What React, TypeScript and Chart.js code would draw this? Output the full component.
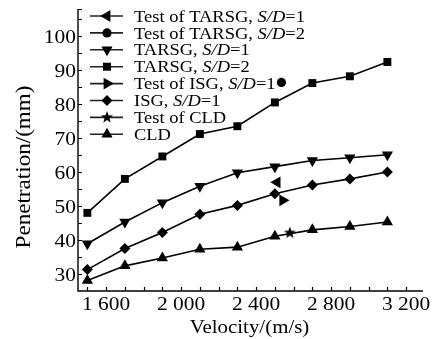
import React, { useEffect, useRef } from 'react';
import { Chart, registerables } from 'chart.js';

Chart.register(...registerables);

// ---- data ----
const velocities = [1500, 1700, 1900, 2100, 2300, 2500, 2700, 2900, 3100];
const tarsgSD1 = [38.9, 45.3, 51.0, 55.8, 59.8, 61.6, 63.4, 64.2, 65.1];
const tarsgSD2 = [48.0, 58.0, 64.6, 71.2, 73.5, 80.5, 86.2, 88.2, 92.4];
const isgSD1 = [31.3, 37.5, 42.2, 47.6, 50.2, 53.6, 56.2, 58.0, 60.0];
const cld = [28.1, 32.4, 34.7, 37.3, 37.9, 41.1, 43.0, 44.0, 45.3];

const testTarsgSD1V = [2512];
const testTarsgSD1P = [57.0];
const testTarsgSD2V = [2535];
const testTarsgSD2P = [86.4];
const testIsgSD1V = [2542];
const testIsgSD1P = [51.7];
const testCldV = [2580];
const testCldP = [42.2];

const yTickValues = [30, 40, 50, 60, 70, 80, 90, 100];
const xTickValues = [1600, 2000, 2400, 2800, 3200];
const xTickLabels = ['1 600', '2 000', '2 400', '2 800', '3 200'];

const xTitle = 'Velocity/(m/s)';
const yTitle = 'Penetration/(mm)';

// legend entries: [normal, italic, normal]
const legendTexts: string[][] = [
  ['Test of TARSG, ', 'S/D', '=1'],
  ['Test of TARSG, ', 'S/D', '=2'],
  ['TARSG, ', 'S/D', '=1'],
  ['TARSG, ', 'S/D', '=2'],
  ['Test of ISG, ', 'S/D', '=1'],
  ['ISG, ', 'S/D', '=1'],
  ['Test of CLD', '', ''],
  ['CLD', '', ''],
];
const legendMarkers = ['left', 'circle', 'down', 'square', 'right', 'diamond', 'star', 'up'];

const SERIF = '"Liberation Serif", "Times New Roman", serif';

function drawMarker(ctx: CanvasRenderingContext2D, kind: string, x: number, y: number) {
  ctx.save();
  ctx.fillStyle = '#000';
  ctx.beginPath();
  const tri = (r: number, rotDeg: number) => {
    let a = (rotDeg * Math.PI) / 180;
    ctx.moveTo(x + Math.sin(a) * r, y - Math.cos(a) * r);
    a += (2 * Math.PI) / 3;
    ctx.lineTo(x + Math.sin(a) * r, y - Math.cos(a) * r);
    a += (2 * Math.PI) / 3;
    ctx.lineTo(x + Math.sin(a) * r, y - Math.cos(a) * r);
    ctx.closePath();
  };
  if (kind === 'up') tri(6.5, 0);
  else if (kind === 'down') tri(6.5, 180);
  else if (kind === 'left') tri(6.8, 270);
  else if (kind === 'right') tri(6.8, 90);
  else if (kind === 'circle') ctx.arc(x, y, 4.6, 0, Math.PI * 2);
  else if (kind === 'square') ctx.rect(x - 4, y - 4, 8, 8);
  else if (kind === 'diamond') {
    ctx.moveTo(x, y - 5.5);
    ctx.lineTo(x + 5.5, y);
    ctx.lineTo(x, y + 5.5);
    ctx.lineTo(x - 5.5, y);
    ctx.closePath();
  } else if (kind === 'star') {
    for (let i = 0; i < 10; i++) {
      const r = i % 2 === 0 ? 6.3 : 2.6;
      const a = (i * Math.PI) / 5;
      const px = x + Math.sin(a) * r;
      const py = y - Math.cos(a) * r;
      if (i === 0) ctx.moveTo(px, py);
      else ctx.lineTo(px, py);
    }
    ctx.closePath();
  }
  ctx.fill();
  ctx.restore();
}

function makeStarCanvas(): HTMLCanvasElement {
  const c = document.createElement('canvas');
  c.width = 14;
  c.height = 14;
  const cx = c.getContext('2d')!;
  drawMarker(cx, 'star', 7, 7.3);
  return c;
}

function stretchedText(
  ctx: CanvasRenderingContext2D,
  text: string,
  x: number,
  y: number,
  font: string,
  align: CanvasTextAlign,
  sx: number
) {
  ctx.save();
  ctx.translate(x, y);
  ctx.scale(sx, 1);
  ctx.font = font;
  ctx.textAlign = align;
  ctx.textBaseline = 'alphabetic';
  ctx.fillStyle = '#000';
  ctx.fillText(text, 0, 0);
  ctx.restore();
}

const decorPlugin = {
  id: 'decor',
  afterDraw(chart: any) {
    const ctx: CanvasRenderingContext2D = chart.ctx;
    const area = chart.chartArea;
    const xs = chart.scales.x;
    const ys = chart.scales.y;
    ctx.save();
    ctx.strokeStyle = '#000';
    ctx.lineWidth = 1.4;
    // axes
    ctx.beginPath();
    ctx.moveTo(area.left, area.top);
    ctx.lineTo(area.left, area.bottom);
    ctx.lineTo(area.right, area.bottom);
    ctx.stroke();
    // y ticks every 5 (inward)
    ctx.lineWidth = 1.2;
    ctx.beginPath();
    for (let v = 30; v <= 105; v += 5) {
      const py = Math.round(ys.getPixelForValue(v)) + 0.5;
      ctx.moveTo(area.left, py);
      ctx.lineTo(area.left + 4, py);
    }
    const topTick = Math.round(area.top) + 0.5;
    ctx.moveTo(area.left, topTick);
    ctx.lineTo(area.left + 4, topTick);
    // x ticks every 100 (inward)
    for (let v = 1500; v <= 3200; v += 100) {
      const px = Math.round(xs.getPixelForValue(v)) + 0.5;
      ctx.moveTo(px, area.bottom);
      ctx.lineTo(px, area.bottom - 4);
    }
    ctx.stroke();

    // tick labels
    const tickFont = `19.5px ${SERIF}`;
    yTickValues.forEach((v) => {
      stretchedText(ctx, String(v), area.left - 2, ys.getPixelForValue(v) + 6.6, tickFont, 'right', 1.1);
    });
    xTickValues.forEach((v, i) => {
      stretchedText(ctx, xTickLabels[i], xs.getPixelForValue(v), 310, tickFont, 'center', 1.1);
    });

    // axis titles
    stretchedText(ctx, xTitle, (area.left + area.right) / 2 - 1, 333, `19px ${SERIF}`, 'center', 1.1);
    ctx.save();
    ctx.translate(30, 167);
    ctx.rotate(-Math.PI / 2);
    ctx.scale(1.1, 1);
    ctx.font = `21px ${SERIF}`;
    ctx.textAlign = 'center';
    ctx.textBaseline = 'alphabetic';
    ctx.fillStyle = '#000';
    ctx.fillText(yTitle, 0, 0);
    ctx.restore();

    // legend
    const sx = 1.12;
    const lf = 16.5;
    legendTexts.forEach((parts, i) => {
      const ry = 16 + i * 16.9;
      ctx.save();
      ctx.strokeStyle = '#222';
      ctx.lineWidth = 1.6;
      ctx.beginPath();
      ctx.moveTo(90, ry);
      ctx.lineTo(123, ry);
      ctx.stroke();
      ctx.restore();
      drawMarker(ctx, legendMarkers[i], 107, ry);
      let tx = 134;
      parts.forEach((p, j) => {
        if (!p) return;
        const font = j === 1 ? `italic ${lf}px ${SERIF}` : `${lf}px ${SERIF}`;
        stretchedText(ctx, p, tx, ry + 5.6, font, 'left', sx);
        ctx.save();
        ctx.font = font;
        tx += ctx.measureText(p).width * sx;
        ctx.restore();
      });
    });
    ctx.restore();
  },
};

export default function App() {
  const ref = useRef<HTMLCanvasElement | null>(null);
  useEffect(() => {
    if (!ref.current) return;
    const star = makeStarCanvas();
    const mk = (xv: number[], yv: number[]) => xv.map((v, i) => ({ x: v, y: yv[i] }));
    const lineDs = (label: string, vals: number[], style: any, radius: number, rotation = 0) => ({
      label,
      data: mk(velocities, vals),
      borderColor: '#000',
      backgroundColor: '#000',
      borderWidth: 1.6,
      pointStyle: style,
      pointRadius: radius,
      pointRotation: rotation,
      pointBorderWidth: 0,
      showLine: true,
      tension: 0,
    });
    const testDs = (label: string, xv: number[], yv: number[], style: any, radius: number, rotation = 0) => ({
      label,
      data: mk(xv, yv),
      borderColor: '#000',
      backgroundColor: '#000',
      pointStyle: style,
      pointRadius: radius,
      pointRotation: rotation,
      pointBorderWidth: 0,
      showLine: false,
    });
    const chart = new Chart(ref.current, {
      type: 'scatter',
      data: {
        datasets: [
          testDs('Test of TARSG, S/D=1', testTarsgSD1V, testTarsgSD1P, 'triangle', 6.8, 270),
          testDs('Test of TARSG, S/D=2', testTarsgSD2V, testTarsgSD2P, 'circle', 4.6),
          lineDs('TARSG, S/D=1', tarsgSD1, 'triangle', 6.5, 180),
          lineDs('TARSG, S/D=2', tarsgSD2, 'rect', 5.6),
          testDs('Test of ISG, S/D=1', testIsgSD1V, testIsgSD1P, 'triangle', 6.8, 90),
          lineDs('ISG, S/D=1', isgSD1, 'rectRot', 5.5),
          testDs('Test of CLD', testCldV, testCldP, star, 7),
          lineDs('CLD', cld, 'triangle', 6.5),
        ] as any,
      },
      options: {
        animation: false,
        responsive: false,
        devicePixelRatio: 1,
        layout: { padding: { left: 78, top: 9, right: 10, bottom: 48 } },
        plugins: { legend: { display: false }, tooltip: { enabled: false } },
        scales: {
          x: { type: 'linear', min: 1450, max: 3290, display: false },
          y: { type: 'linear', min: 25, max: 108, display: false },
        },
      },
      plugins: [decorPlugin],
    });
    return () => chart.destroy();
  }, []);
  return (
    <div style={{ position: 'absolute', left: 0, top: 0, width: 433, height: 339, background: '#fff' }}>
      <canvas ref={ref} width={433} height={339} />
    </div>
  );
}
